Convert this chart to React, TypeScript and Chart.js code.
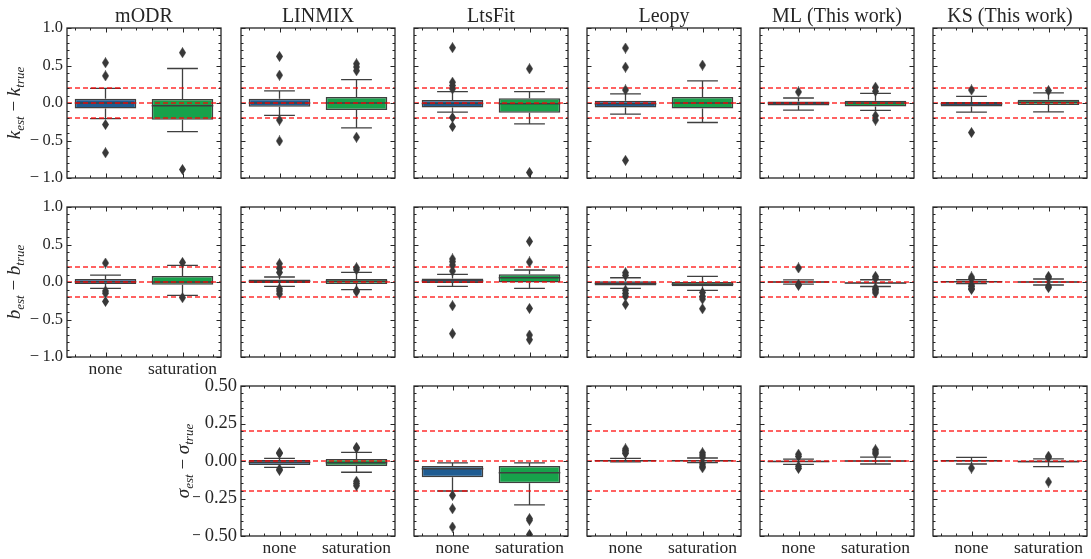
import React, { useEffect, useRef } from "react";
import { Chart, registerables } from "chart.js";

Chart.register(...registerables);

// ---------------------------------------------------------------------------
// Data
// ---------------------------------------------------------------------------

const METHODS = ["mODR", "LINMIX", "LtsFit", "Leopy", "ML (This work)", "KS (This work)"];
const SIGMA_METHODS = ["LINMIX", "LtsFit", "Leopy", "ML (This work)", "KS (This work)"];
const CATEGORIES = ["none", "saturation"];

// Box summaries per method: [lower whisker, Q1, median, Q3, upper whisker]
const SLOPE_NONE: number[][] = [
  [-0.207, -0.072, 0.0, 0.058, 0.196],
  [-0.166, -0.05, 0.0, 0.058, 0.161],
  [-0.121, -0.059, -0.005, 0.04, 0.152],
  [-0.148, -0.059, -0.01, 0.031, 0.121],
  [-0.094, -0.032, 0.0, 0.021, 0.067],
  [-0.121, -0.045, -0.01, 0.013, 0.089],
];
const SLOPE_SAT: number[][] = [
  [-0.381, -0.222, -0.035, 0.054, 0.46],
  [-0.331, -0.094, 0.0, 0.08, 0.313],
  [-0.278, -0.13, -0.01, 0.062, 0.152],
  [-0.26, -0.072, 0.0, 0.08, 0.295],
  [-0.099, -0.045, 0.0, 0.031, 0.129],
  [-0.117, -0.027, 0.01, 0.044, 0.134],
];
const SLOPE_NONE_FLIERS: number[][] = [
  [0.537, 0.362, -0.287, -0.663],
  [0.621, 0.371, -0.228, -0.506],
  [0.738, 0.277, 0.232, 0.188, -0.193, -0.314],
  [0.733, 0.478, 0.174, -0.765],
  [0.148],
  [0.174, -0.394],
];
const SLOPE_SAT_FLIERS: number[][] = [
  [0.671, -0.886],
  [0.523, 0.48, 0.43, -0.456],
  [0.456, -0.926],
  [0.505],
  [0.21, 0.156, -0.17, -0.228],
  [0.165],
];

const INTERCEPT_NONE: number[][] = [
  [-0.085, -0.027, 0.005, 0.04, 0.093],
  [-0.058, -0.013, 0.01, 0.035, 0.067],
  [-0.058, -0.013, 0.015, 0.048, 0.102],
  [-0.085, -0.045, -0.02, 0.009, 0.057],
  [-0.028, -0.006, 0.0, 0.006, 0.028],
  [-0.02, 0.0, 0.005, 0.01, 0.03],
];
const INTERCEPT_SAT: number[][] = [
  [-0.178, -0.036, 0.0, 0.08, 0.221],
  [-0.102, -0.027, 0.01, 0.04, 0.128],
  [-0.085, -0.005, 0.057, 0.102, 0.16],
  [-0.112, -0.058, -0.031, 0.0, 0.075],
  [-0.06, -0.02, -0.012, -0.005, 0.03],
  [-0.04, -0.005, 0.0, 0.008, 0.04],
];
const INTERCEPT_NONE_FLIERS: number[][] = [
  [0.253, -0.12, -0.15, -0.26],
  [0.244, 0.182, 0.128, -0.09, -0.12, -0.16],
  [0.307, 0.271, 0.226, 0.146, -0.316, -0.689],
  [0.124, 0.088, -0.11, -0.152, -0.19, -0.298],
  [0.187, -0.035, -0.045],
  [0.067, 0.045, -0.04, -0.06, -0.085, -0.1],
];
const INTERCEPT_SAT_FLIERS: number[][] = [
  [0.261, -0.209],
  [0.19, 0.164, -0.116, -0.13],
  [0.541, 0.267, -0.352, -0.707, -0.769],
  [-0.14, -0.191, -0.227, -0.356],
  [0.075, 0.05, -0.08, -0.1, -0.12, -0.145],
  [0.075, 0.055, -0.055, -0.075],
];

const SIGMA_NONE: number[][] = [
  [-0.042, -0.027, -0.009, 0.007, 0.018],
  [-0.2, -0.109, -0.051, -0.033, -0.013],
  [-0.006, -0.001, 0.002, 0.005, 0.018],
  [-0.022, -0.007, -0.003, 0.001, 0.012],
  [-0.02, -0.004, 0.001, 0.004, 0.024],
];
const SIGMA_SAT: number[][] = [
  [-0.075, -0.033, -0.011, 0.013, 0.058],
  [-0.293, -0.149, -0.078, -0.033, -0.013],
  [-0.011, -0.002, 0.001, 0.004, 0.02],
  [-0.02, -0.004, 0.0, 0.004, 0.026],
  [-0.038, -0.01, -0.004, 0.0, 0.014],
];
const SIGMA_NONE_FLIERS: number[][] = [
  [0.056, 0.05, -0.055, -0.062],
  [-0.229, -0.318, -0.44],
  [0.081, 0.07, 0.06, 0.05],
  [0.045, 0.03, -0.035, -0.05],
  [-0.047],
];
const SIGMA_SAT_FLIERS: number[][] = [
  [0.091, 0.085, -0.135, -0.15, -0.165],
  [-0.384, -0.395, -0.49],
  [0.055, 0.04, 0.025, -0.02, -0.035, -0.045],
  [0.075, 0.06, 0.048],
  [0.032, 0.025, -0.14],
];

const UNIT_TICKS = [-1, -0.5, 0, 0.5, 1];
const SIGMA_TICKS = [-0.5, -0.25, 0, 0.25, 0.5];
const TOLERANCE_LINES = [-0.2, 0, 0.2];

// ---------------------------------------------------------------------------
// Styling and layout
// ---------------------------------------------------------------------------

const FONT = '"Liberation Serif", "Times New Roman", serif';
const INK = "#262626";
const BOX_COLORS = ["#1F5C92", "#17A24B"];
const LINE_GRAY = "#3f3f3f";
const RED = "rgba(255, 0, 0, 0.82)";

const COL_LEFT = [67, 241, 414, 587, 760, 933];
const ROW_TOP = [28, 207, 386];
const PANEL_W = 157;
const PANEL_H = 150;
const ML = 67;
const MR = 2;
const MT = 28;
const MB = 34;
const YW = 48; // width reserved for y tick labels
const XH = 24; // height reserved for x tick labels

type Panel = {
  row: number;
  col: number;
  title?: string;
  stats: number[][];
  fliers: number[][];
  ticks: number[];
  minorStep: number;
  decimals: number;
  tickSize: number;
  symbol?: string;
  showY: boolean;
  showX: boolean;
};

const PANELS: Panel[] = [
  ...METHODS.map((m, c) => ({
    row: 0,
    col: c,
    title: m,
    stats: [SLOPE_NONE[c], SLOPE_SAT[c]],
    fliers: [SLOPE_NONE_FLIERS[c], SLOPE_SAT_FLIERS[c]],
    ticks: UNIT_TICKS,
    minorStep: 0.1,
    decimals: 1,
    tickSize: 16.5,
    symbol: c === 0 ? "k" : undefined,
    showY: c === 0,
    showX: false,
  })),
  ...METHODS.map((m, c) => ({
    row: 1,
    col: c,
    stats: [INTERCEPT_NONE[c], INTERCEPT_SAT[c]],
    fliers: [INTERCEPT_NONE_FLIERS[c], INTERCEPT_SAT_FLIERS[c]],
    ticks: UNIT_TICKS,
    minorStep: 0.1,
    decimals: 1,
    tickSize: 16.5,
    symbol: c === 0 ? "b" : undefined,
    showY: c === 0,
    showX: c === 0,
  })),
  ...SIGMA_METHODS.map((m, i) => ({
    row: 2,
    col: i + 1,
    stats: [SIGMA_NONE[i], SIGMA_SAT[i]],
    fliers: [SIGMA_NONE_FLIERS[i], SIGMA_SAT_FLIERS[i]],
    ticks: SIGMA_TICKS,
    minorStep: 0.05,
    decimals: 2,
    tickSize: 18.5,
    symbol: i === 0 ? "σ" : undefined,
    showY: i === 0,
    showX: true,
  })),
];

function geometry(p: Panel) {
  return {
    x: COL_LEFT[p.col] - ML,
    y: ROW_TOP[p.row] - MT,
    w: PANEL_W + ML + MR,
    h: PANEL_H + MT + MB,
  };
}

function formatTick(v: number, decimals: number) {
  if (Math.abs(v) < 1e-9) return (0).toFixed(decimals);
  const s = Math.abs(v).toFixed(decimals);
  return v < 0 ? "\u2212\u2009" + s : s;
}

// Thin diamond used for outliers
let diamondCache: HTMLCanvasElement | null = null;
function diamond(): HTMLCanvasElement {
  if (diamondCache) return diamondCache;
  const c = document.createElement("canvas");
  c.width = 7;
  c.height = 11;
  const g = c.getContext("2d")!;
  g.fillStyle = "#383838";
  g.beginPath();
  g.moveTo(3.5, 0);
  g.lineTo(7, 5.5);
  g.lineTo(3.5, 11);
  g.lineTo(0, 5.5);
  g.closePath();
  g.fill();
  diamondCache = c;
  return c;
}

function drawAxisTitle(ctx: CanvasRenderingContext2D, x: number, y: number, sym: string) {
  const big = `italic 19px ${FONT}`;
  const small = `italic 13px ${FONT}`;
  const roman = `19px ${FONT}`;
  const parts = [
    { t: sym, f: big, dy: 0 },
    { t: "est", f: small, dy: 4 },
    { t: " \u2212 ", f: roman, dy: 0 },
    { t: sym, f: big, dy: 0 },
    { t: "true", f: small, dy: 4 },
  ];
  ctx.save();
  ctx.translate(x, y);
  ctx.rotate(-Math.PI / 2);
  ctx.fillStyle = INK;
  ctx.textBaseline = "alphabetic";
  ctx.textAlign = "left";
  let total = 0;
  const widths = parts.map((pt) => {
    ctx.font = pt.f;
    const w = ctx.measureText(pt.t).width;
    total += w;
    return w;
  });
  let cx = -total / 2;
  parts.forEach((pt, i) => {
    ctx.font = pt.f;
    ctx.fillText(pt.t, cx, pt.dy);
    cx += widths[i];
  });
  ctx.restore();
}

function panelPlugin(p: Panel) {
  return {
    id: "panelDecor",
    beforeDatasetsDraw(chart: any) {
      // whiskers and caps
      const ctx: CanvasRenderingContext2D = chart.ctx;
      const ys = chart.scales.y;
      const meta = chart.getDatasetMeta(0);
      ctx.save();
      ctx.strokeStyle = LINE_GRAY;
      ctx.lineWidth = 1.3;
      p.stats.forEach((s, i) => {
        const el = meta.data[i];
        const cx = el.x;
        const half = el.width / 4;
        const lo = ys.getPixelForValue(s[0]);
        const q1 = ys.getPixelForValue(s[1]);
        const q3 = ys.getPixelForValue(s[3]);
        const hi = ys.getPixelForValue(s[4]);
        ctx.beginPath();
        ctx.moveTo(cx, q3);
        ctx.lineTo(cx, hi);
        ctx.moveTo(cx, q1);
        ctx.lineTo(cx, lo);
        ctx.moveTo(cx - half, hi);
        ctx.lineTo(cx + half, hi);
        ctx.moveTo(cx - half, lo);
        ctx.lineTo(cx + half, lo);
        ctx.stroke();
      });
      ctx.restore();
    },
    afterDatasetDraw(chart: any, args: any) {
      if (args.index !== 0) return;
      const ctx: CanvasRenderingContext2D = chart.ctx;
      const ys = chart.scales.y;
      const area = chart.chartArea;
      const meta = chart.getDatasetMeta(0);
      ctx.save();
      // medians
      ctx.strokeStyle = LINE_GRAY;
      ctx.lineWidth = 1.5;
      p.stats.forEach((s, i) => {
        const el = meta.data[i];
        const m = ys.getPixelForValue(s[2]);
        ctx.beginPath();
        ctx.moveTo(el.x - el.width / 2, m);
        ctx.lineTo(el.x + el.width / 2, m);
        ctx.stroke();
      });
      // tolerance lines
      ctx.strokeStyle = RED;
      ctx.lineWidth = 1.4;
      ctx.setLineDash([5, 3]);
      TOLERANCE_LINES.forEach((v) => {
        const y = ys.getPixelForValue(v);
        ctx.beginPath();
        ctx.moveTo(area.left, y);
        ctx.lineTo(area.right, y);
        ctx.stroke();
      });
      ctx.restore();
    },
    afterDraw(chart: any) {
      const ctx: CanvasRenderingContext2D = chart.ctx;
      const area = chart.chartArea;
      const xs = chart.scales.x;
      const ys = chart.scales.y;
      ctx.save();
      ctx.strokeStyle = INK;
      ctx.lineWidth = 1;
      // y ticks (left and right, inward)
      const min = p.ticks[0];
      const max = p.ticks[p.ticks.length - 1];
      const n = Math.round((max - min) / p.minorStep);
      for (let k = 0; k <= n; k++) {
        const v = min + k * p.minorStep;
        const major = p.ticks.some((t) => Math.abs(t - v) < 1e-9);
        const len = major ? 4.5 : 2.5;
        const y = Math.round(ys.getPixelForValue(v)) + 0.5;
        ctx.beginPath();
        ctx.moveTo(area.left, y);
        ctx.lineTo(area.left + len, y);
        ctx.moveTo(area.right, y);
        ctx.lineTo(area.right - len, y);
        ctx.stroke();
      }
      // x ticks (bottom and top, inward)
      const p0 = xs.getPixelForValue(0);
      const p1 = xs.getPixelForValue(1);
      for (let k = -2; k <= 7; k++) {
        const v = k * 0.2;
        const major = k === 0 || k === 5;
        const len = major ? 4.5 : 2.5;
        const x = Math.round(p0 + v * (p1 - p0)) + 0.5;
        ctx.beginPath();
        ctx.moveTo(x, area.bottom);
        ctx.lineTo(x, area.bottom - len);
        ctx.moveTo(x, area.top);
        ctx.lineTo(x, area.top + len);
        ctx.stroke();
      }
      // frame
      ctx.lineWidth = 1.3;
      ctx.strokeRect(area.left, area.top, area.right - area.left, area.bottom - area.top);
      // panel title
      if (p.title) {
        ctx.fillStyle = INK;
        ctx.font = `20px ${FONT}`;
        ctx.textAlign = "center";
        ctx.textBaseline = "alphabetic";
        ctx.fillText(p.title, (area.left + area.right) / 2, area.top - 6);
      }
      // y-axis title
      if (p.symbol) {
        const offset = p.row === 2 ? 52 : 47;
        drawAxisTitle(ctx, area.left - offset, (area.top + area.bottom) / 2, p.symbol);
      }
      ctx.restore();
    },
  };
}

function buildConfig(p: Panel): any {
  const min = p.ticks[0];
  const max = p.ticks[p.ticks.length - 1];
  const step = p.ticks[1] - p.ticks[0];
  const points = p.fliers.flatMap((list, i) => list.map((y) => ({ x: CATEGORIES[i], y })));
  return {
    type: "bar",
    data: {
      labels: CATEGORIES,
      datasets: [
        {
          type: "bar",
          data: p.stats.map((s) => [s[1], s[3]]),
          backgroundColor: BOX_COLORS,
          borderColor: LINE_GRAY,
          borderWidth: 1.5,
          borderSkipped: false,
          barPercentage: 0.8,
          categoryPercentage: 1,
          order: 2,
        },
        {
          type: "scatter",
          data: points,
          pointStyle: diamond(),
          pointRadius: 5,
          backgroundColor: "#383838",
          borderWidth: 0,
          order: 1,
        },
      ],
    },
    options: {
      responsive: false,
      animation: false,
      events: [],
      layout: {
        padding: {
          left: p.showY ? ML - YW : ML,
          right: MR,
          top: MT,
          bottom: p.showX ? MB - XH : MB,
        },
      },
      plugins: {
        legend: { display: false },
        tooltip: { enabled: false },
        title: { display: false },
      },
      scales: {
        x: {
          type: "category",
          offset: true,
          display: p.showX,
          grid: { display: false, drawTicks: false },
          border: { display: false },
          ticks: { font: { family: FONT, size: 17.5 }, color: INK, padding: 2, maxRotation: 0, autoSkip: false },
          afterFit: (s: any) => {
            s.height = p.showX ? XH : 0;
          },
        },
        y: {
          type: "linear",
          min,
          max,
          display: p.showY,
          grid: { display: false, drawTicks: false },
          border: { display: false },
          ticks: {
            stepSize: step,
            font: { family: FONT, size: p.tickSize },
            color: INK,
            padding: 4,
            callback: (v: number) => formatTick(v, p.decimals),
          },
          afterFit: (s: any) => {
            s.width = p.showY ? YW : 0;
          },
        },
      },
    },
    plugins: [panelPlugin(p)],
  };
}

export default function App() {
  const refs = useRef<(HTMLCanvasElement | null)[]>([]);

  useEffect(() => {
    const charts = PANELS.map((p, i) => new Chart(refs.current[i] as HTMLCanvasElement, buildConfig(p)));
    return () => charts.forEach((c) => c.destroy());
  }, []);

  return (
    <div
      style={{
        position: "fixed",
        left: 0,
        top: 0,
        width: 1091,
        height: 559,
        overflow: "hidden",
        background: "#ffffff",
      }}
    >
      {PANELS.map((p, i) => {
        const g = geometry(p);
        return (
          <canvas
            key={i}
            ref={(el) => {
              refs.current[i] = el;
            }}
            width={g.w}
            height={g.h}
            style={{ position: "absolute", left: g.x, top: g.y, width: g.w, height: g.h }}
          />
        );
      })}
    </div>
  );
}
